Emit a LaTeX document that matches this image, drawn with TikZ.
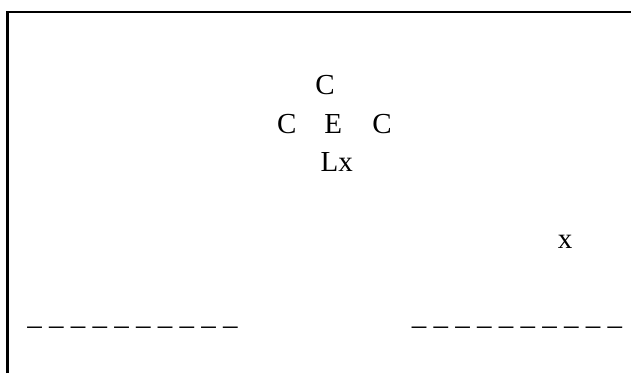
\documentclass[tikz,border=0pt]{standalone}
\usepackage{fontspec}
\setmainfont{Liberation Serif}
\begin{document}
\begin{tikzpicture}[x=1pt,y=-1pt,
  lbl/.style={inner sep=0pt,anchor=base,font=\fontsize{29}{31}\selectfont},
  frame/.style={line width=2.5pt,line cap=butt}]
\useasboundingbox (0,0) rectangle (631,373);
\coordinate (fbot) at (7.5,373);
\coordinate (fcorner) at (7.5,12);
\coordinate (fright) at (631,12);
\draw[frame] (fbot) -- (fcorner) -- (fright);
\node[lbl] (ctop) at (325,94) {C};
\node[lbl] (cleft) at (286.7,133) {C};
\node[lbl] (e) at (333.3,133) {E};
\node[lbl] (cright) at (382,133) {C};
\node[lbl] (lx) at (336.8,171) {Lx};
\node[lbl] (x) at (565,248) {x};
\node[lbl] (dleft) at (132.5,334) {– – – – – – – – – –};
\node[lbl] (dright) at (517,334) {– – – – – – – – – –};
\end{tikzpicture}
\end{document}
